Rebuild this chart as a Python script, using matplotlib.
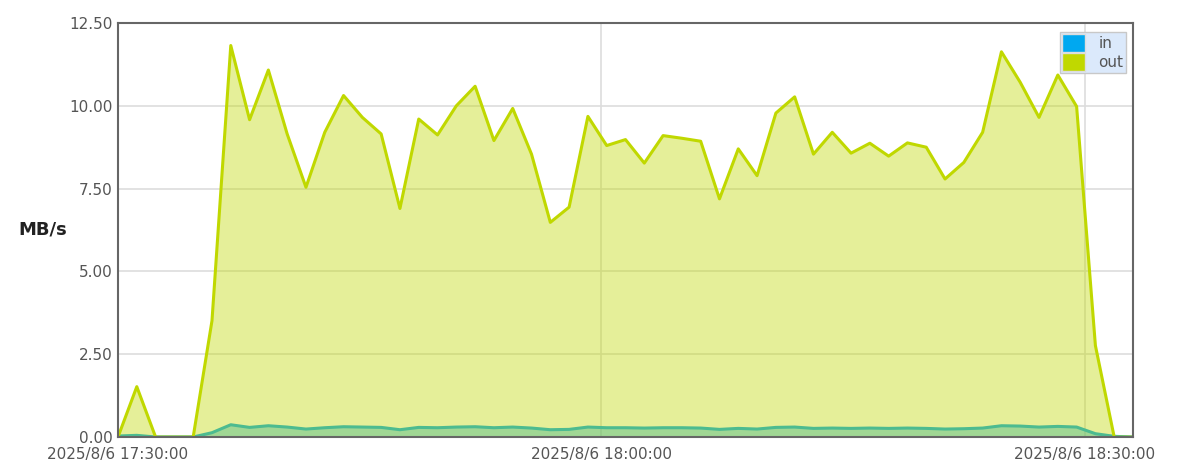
import datetime as dt
import matplotlib
matplotlib.use("Agg")
import matplotlib.pyplot as plt
import matplotlib.dates as mdates
from matplotlib.patches import Patch

# ─── Data (MB/s, one sample every 70 s from 17:30:00) ─────────────────────────
START = dt.datetime(2025, 8, 6, 17, 30, 0)
STEP_SECONDS = 70

out_mbs = [0.00, 1.52, 0.00, 0.00, 0.00, 3.51, 11.82, 9.58, 11.08, 9.15,
           7.54, 9.20, 10.31, 9.65, 9.15, 6.90, 9.60, 9.12, 10.00, 10.59,
           8.95, 9.92, 8.54, 6.48, 6.94, 9.68, 8.80, 8.98, 8.27, 9.10,
           9.02, 8.93, 7.19, 8.70, 7.89, 9.78, 10.27, 8.54, 9.20, 8.57,
           8.87, 8.48, 8.88, 8.75, 7.79, 8.29, 9.20, 11.63, 10.71, 9.65,
           10.93, 9.98, 2.76, 0.00, 0.00]

in_mbs = [0.03, 0.05, 0.00, 0.00, 0.00, 0.13, 0.37, 0.29, 0.34, 0.30,
          0.24, 0.28, 0.31, 0.30, 0.29, 0.22, 0.29, 0.28, 0.30, 0.31,
          0.28, 0.30, 0.27, 0.22, 0.23, 0.30, 0.28, 0.28, 0.27, 0.28,
          0.28, 0.27, 0.23, 0.26, 0.24, 0.29, 0.30, 0.26, 0.27, 0.26,
          0.27, 0.26, 0.27, 0.26, 0.24, 0.25, 0.27, 0.34, 0.33, 0.30,
          0.32, 0.30, 0.10, 0.02, 0.00]

times = [START + dt.timedelta(seconds=STEP_SECONDS * i) for i in range(len(out_mbs))]

y_ticks = [0, 2.5, 5, 7.5, 10, 12.5]
x_ticks = [dt.datetime(2025, 8, 6, 17, 30), dt.datetime(2025, 8, 6, 18, 0),
           dt.datetime(2025, 8, 6, 18, 30)]

IN_COLOR = "#00a8f0"
OUT_COLOR = "#c0d800"
TEXT = "#555555"

# ─── Plot ─────────────────────────────────────────────────────────────────────
fig = plt.figure(figsize=(11.91, 4.74), dpi=100)
ax = fig.add_axes([118 / 1191, 37 / 474, 1015 / 1191, 414 / 474])

ax.grid(True, color="#dddddd", linewidth=1.2, zorder=0)
ax.set_axisbelow(True)

ax.fill_between(times, in_mbs, color=IN_COLOR, alpha=0.45, linewidth=0, zorder=2)
ax.plot(times, in_mbs, color=IN_COLOR, linewidth=2.2, zorder=3)
ax.fill_between(times, out_mbs, color=OUT_COLOR, alpha=0.4, linewidth=0, zorder=4)
ax.plot(times, out_mbs, color=OUT_COLOR, linewidth=2.2, zorder=5)

ax.set_xlim(times[0], times[-1])
ax.set_ylim(0, 12.5)
ax.set_yticks(y_ticks)
ax.set_yticklabels([f"{v:.2f}" for v in y_ticks])
ax.set_xticks(x_ticks)
ax.xaxis.set_major_formatter(mdates.DateFormatter("2025/8/6 %H:%M:%S"))

ax.tick_params(length=0, labelsize=11, labelcolor=TEXT)
ax.tick_params(axis="y", pad=4)
ax.tick_params(axis="x", pad=7)
for s in ax.spines.values():
    s.set_color("#666666")
    s.set_linewidth(1.5)
    s.set_zorder(6)

ax.set_ylabel("MB/s", rotation=0, fontsize=13, fontweight="bold", color="#222222",
              va="center", ha="center")
ax.yaxis.set_label_coords(-0.074, 0.5)

handles = [Patch(facecolor=IN_COLOR, edgecolor="#dddddd", label="in"),
           Patch(facecolor=OUT_COLOR, edgecolor="#dddddd", label="out")]
leg = ax.legend(handles=handles, loc="upper right", bbox_to_anchor=(0.993, 0.978),
                fontsize=11, frameon=True, fancybox=False, framealpha=1,
                facecolor="#dbe9fb", edgecolor="#c8c8c8", borderpad=0.15,
                labelspacing=0.12, handlelength=1.5, handleheight=1.35,
                handletextpad=0.9, borderaxespad=0)
for t in leg.get_texts():
    t.set_color(TEXT)
leg.set_zorder(10)

fig.savefig("out.png", dpi=100)
